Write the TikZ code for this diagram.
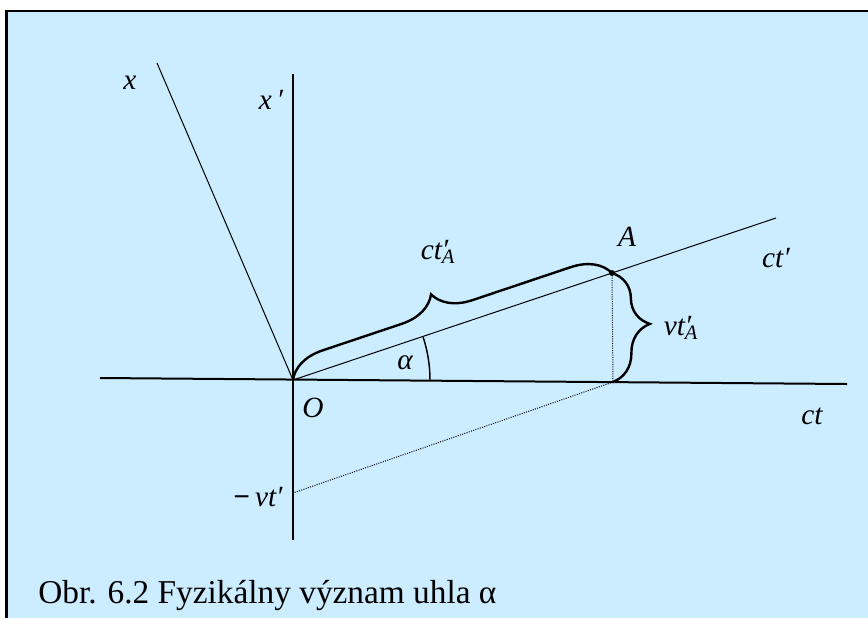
\documentclass[tikz,border=0pt]{standalone}
\usepackage{fontspec}
\setmainfont{Liberation Serif}
\usetikzlibrary{decorations.pathreplacing}
\definecolor{paneblue}{RGB}{204,236,255}
\tikzset{
  axis/.style={line width=1.5pt},
  thinline/.style={line width=0.75pt},
  brc/.style={decorate, decoration={brace, amplitude=28pt, aspect=0.47}, line width=1.8pt},
  lbl/.style={font=\fontsize{22}{25}\selectfont\itshape, inner sep=0pt},
}

\begin{document}
\begin{tikzpicture}[x=0.75pt, y=-0.75pt]
  \useasboundingbox (0,0) rectangle (868,618);
  % Panel
  \fill[paneblue] (6.5,11) rectangle (868,618);
  \draw[line width=1.6pt] (6.5,618) -- (6.5,11) -- (868,11);
  % Points
  \coordinate (O) at (293,380);
  \coordinate (A) at (612,273);
  \coordinate (B) at (613,382);
  \coordinate (M) at (293,493);
  % Axes
  \draw[axis] (100,378) -- (847,384);
  \draw[axis] (293,74) -- (293,540);
  \draw[thinline] (157,63) -- (O);
  \draw[thinline] (O) -- (776,218);
  % Projections
  \draw[thinline, densely dotted] (A) -- (B);
  \draw[thinline, densely dotted] (B) -- (M);
  % Braces
  \draw[brc] (O) -- (A);
  \draw[brc] (A) -- (B);
  \fill (A) circle (2.2pt);
  % Angle
  \draw[line width=1.1pt] (O) ++(18.2:102.75pt) arc[start angle=18.2, end angle=0, radius=102.75pt];
  % Labels
  \node[lbl] (lx) at (130,83) {x};
  \node[lbl] (lxp) at (271,100) {x\,′};
  \node[lbl] (lA) at (627,237) {A};
  \node[lbl] (lO) at (313,408) {O};
  \node[lbl] (lalpha) at (405,363) {α};
  \node[lbl] (lctp) at (776,258) {ct′};
  \node[lbl] (lct) at (812,416) {ct};
  \node[lbl] (lctA) at (438,252) {ct\rlap{′}\textsubscript{A}};
  \node[lbl] (lvtA) at (681,328) {vt\rlap{′}\textsubscript{A}};
  \node[lbl] (lmvt) at (258,497) {\upshape\textbf{−}\,\itshape vt′};
  % Caption
  \node[font=\fontsize{25}{29}\selectfont, anchor=base west, inner sep=0pt] (cap) at (38,603) {Obr. 6.2 Fyzikálny význam uhla α};
\end{tikzpicture}
\end{document}
